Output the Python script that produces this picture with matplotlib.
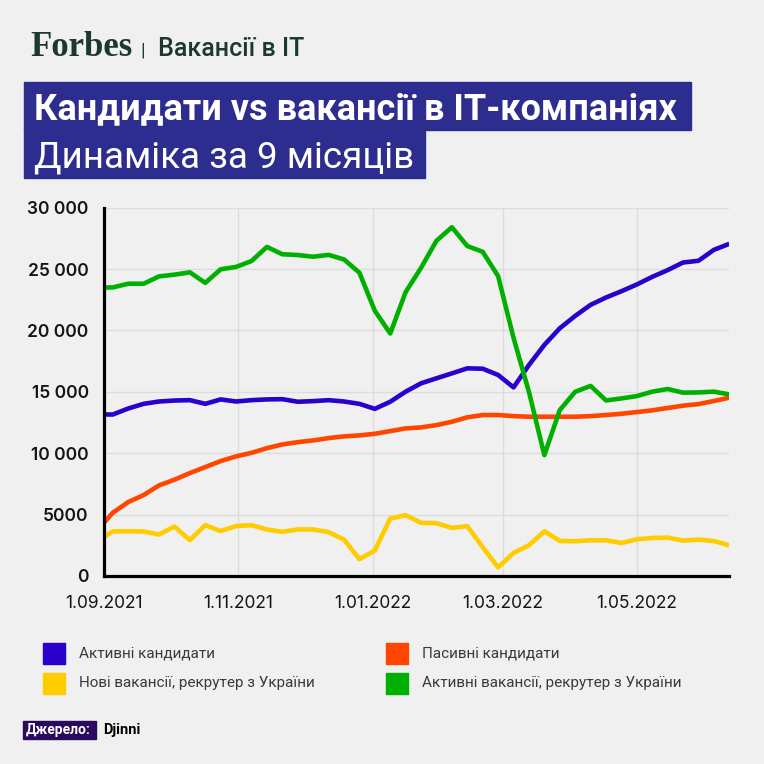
import matplotlib
matplotlib.use('Agg')
import matplotlib.pyplot as plt
from matplotlib.patches import Rectangle
import pandas as pd

# weekly data points (first point is 1 Sep, then Sundays)
dates = pd.to_datetime(['2021-09-01']).append(pd.date_range('2021-09-05', periods=41, freq='7D'))

active_candidates = [13150, 13150, 13640, 14020, 14210, 14290, 14320, 14020, 14380, 14210,
                     14320, 14380, 14400, 14190, 14240, 14320, 14210, 14020, 13610, 14190,
                     15010, 15690, 16100, 16500, 16910, 16880, 16370, 15360, 17180, 18820,
                     20170, 21180, 22080, 22680, 23190, 23740, 24360, 24910, 25530, 25670,
                     26560, 27050]
passive_candidates = [4340, 5150, 6020, 6590, 7380, 7840, 8380, 8870, 9360, 9740,
                      10030, 10410, 10710, 10900, 11040, 11230, 11370, 11450, 11580, 11800,
                      12020, 12100, 12290, 12560, 12920, 13110, 13110, 13020, 12970, 12970,
                      12970, 12970, 13020, 13110, 13210, 13350, 13490, 13680, 13870, 14000,
                      14250, 14520]
new_vacancies = [3190, 3630, 3650, 3620, 3380, 4030, 2920, 4140, 3660, 4070,
                 4140, 3790, 3600, 3790, 3790, 3570, 2970, 1370, 2080, 4680,
                 4950, 4330, 4300, 3920, 4060, 2350, 700, 1880, 2500, 3640,
                 2860, 2830, 2910, 2910, 2690, 2990, 3100, 3130, 2880, 2960,
                 2850, 2500]
active_vacancies = [23490, 23500, 23800, 23800, 24400, 24540, 24730, 23870, 24980, 25170,
                    25650, 26800, 26200, 26140, 26000, 26150, 25780, 24700, 21600, 19750,
                    23120, 25100, 27300, 28400, 26870, 26400, 24420, 19400, 15000, 9840,
                    13510, 15000, 15480, 14300, 14460, 14650, 15010, 15230, 14930, 14950,
                    15010, 14790]

labels = ['Активні кандидати', 'Пасивні кандидати',
          'Нові вакансії, рекрутер з України', 'Активні вакансії, рекрутер з України']
colors = ['#2a00cc', '#ff4500', '#ffcc00', '#00b000']

ytick_vals = [0, 5000, 10000, 15000, 20000, 25000, 30000]
ytick_labels = ['0', '5000', '10 000', '15 000', '20 000', '25 000', '30 000']
xtick_dates = pd.to_datetime(['2021-09-01', '2021-11-01', '2022-01-01', '2022-03-01', '2022-05-01'])
xtick_labels = ['1.09.2021', '1.11.2021', '1.01.2022', '1.03.2022', '1.05.2022']

BG = '#f0f0f0'
W = 764.0

def fx(x):
    return x / W

def fy(y):
    return 1 - y / W

fig = plt.figure(figsize=(7.64, 7.64), dpi=100, facecolor=BG)

# header
fig.text(fx(30), fy(56), 'Forbes', family='Liberation Serif', weight='bold',
         fontsize=25, color='#1c3a2c', va='baseline')
fig.text(fx(140), fy(56), '|', family='Roboto', fontsize=14, color='#1c3a2c', va='baseline')
fig.text(fx(158), fy(56), 'Вакансії в ІТ', family='Roboto', weight='medium',
         fontsize=18, color='#1c3a2c', va='baseline')

# title boxes
title_color = '#2d2d8f'
fig.patches.append(Rectangle((fx(24), fy(130)), fx(691 - 24), (130 - 82) / W,
                             transform=fig.transFigure, color=title_color, zorder=0))
fig.patches.append(Rectangle((fx(24), fy(178)), fx(425 - 24), (178 - 129) / W,
                             transform=fig.transFigure, color=title_color, zorder=0))
fig.text(fx(34), fy(119), 'Кандидати vs вакансії в IT-компаніях', family='Roboto',
         weight='bold', fontsize=26, color='white', va='baseline')
fig.text(fx(34), fy(167), 'Динаміка за 9 місяців', family='Roboto',
         weight='normal', fontsize=26.5, color='white', va='baseline')

# chart
ax = fig.add_axes([fx(104), fy(576), (729.3 - 104) / W, (576 - 207.6) / W])
ax.set_facecolor(BG)
series = [active_candidates, passive_candidates, new_vacancies, active_vacancies]
order = [2, 1, 0, 3]
for i in order:
    ax.plot(dates, series[i], color=colors[i], lw=3.3, solid_capstyle='butt', zorder=3)

ax.set_xlim(dates[0], dates[-1])
ax.set_ylim(0, 30000)
ax.set_yticks(ytick_vals)
ax.set_yticklabels(ytick_labels, family='Inter', weight='semibold', fontsize=12.5, color='#141414')
ax.set_xticks(xtick_dates)
ax.set_xticklabels(xtick_labels, family='Inter', fontsize=12.5, color='#141414')
ax.tick_params(axis='y', length=0, pad=11)
ax.tick_params(axis='x', length=0, pad=14)
ax.grid(color='#dcdcdc', lw=1)
ax.set_axisbelow(True)
for s in ['top', 'right']:
    ax.spines[s].set_visible(False)
for s in ['left', 'bottom']:
    ax.spines[s].set_color('black')
    ax.spines[s].set_linewidth(2.3)
    ax.spines[s].set_zorder(4)

# legend
leg_pos = [(43, 653), (386, 653), (43, 683), (386, 683)]
for (x, y), lab, c in zip(leg_pos, labels, colors):
    fig.patches.append(Rectangle((fx(x), fy(y + 11)), 22 / W, 21 / W,
                                 transform=fig.transFigure, color=c))
    fig.text(fx(x + 36), fy(y), lab, family='Roboto', fontsize=11, color='#3a3a3a', va='center')

# source
fig.patches.append(Rectangle((fx(23), fy(739)), 73 / W, 18 / W,
                             transform=fig.transFigure, color='#2a0a5c'))
fig.text(fx(26), fy(730), 'Джерело:', family='Roboto', weight='bold', fontsize=10,
         color='white', va='center')
fig.text(fx(103), fy(730), 'Djinni', family='Roboto', weight='bold', fontsize=10.5,
         color='black', va='center')

fig.savefig('out.png', dpi=100, facecolor=BG)
